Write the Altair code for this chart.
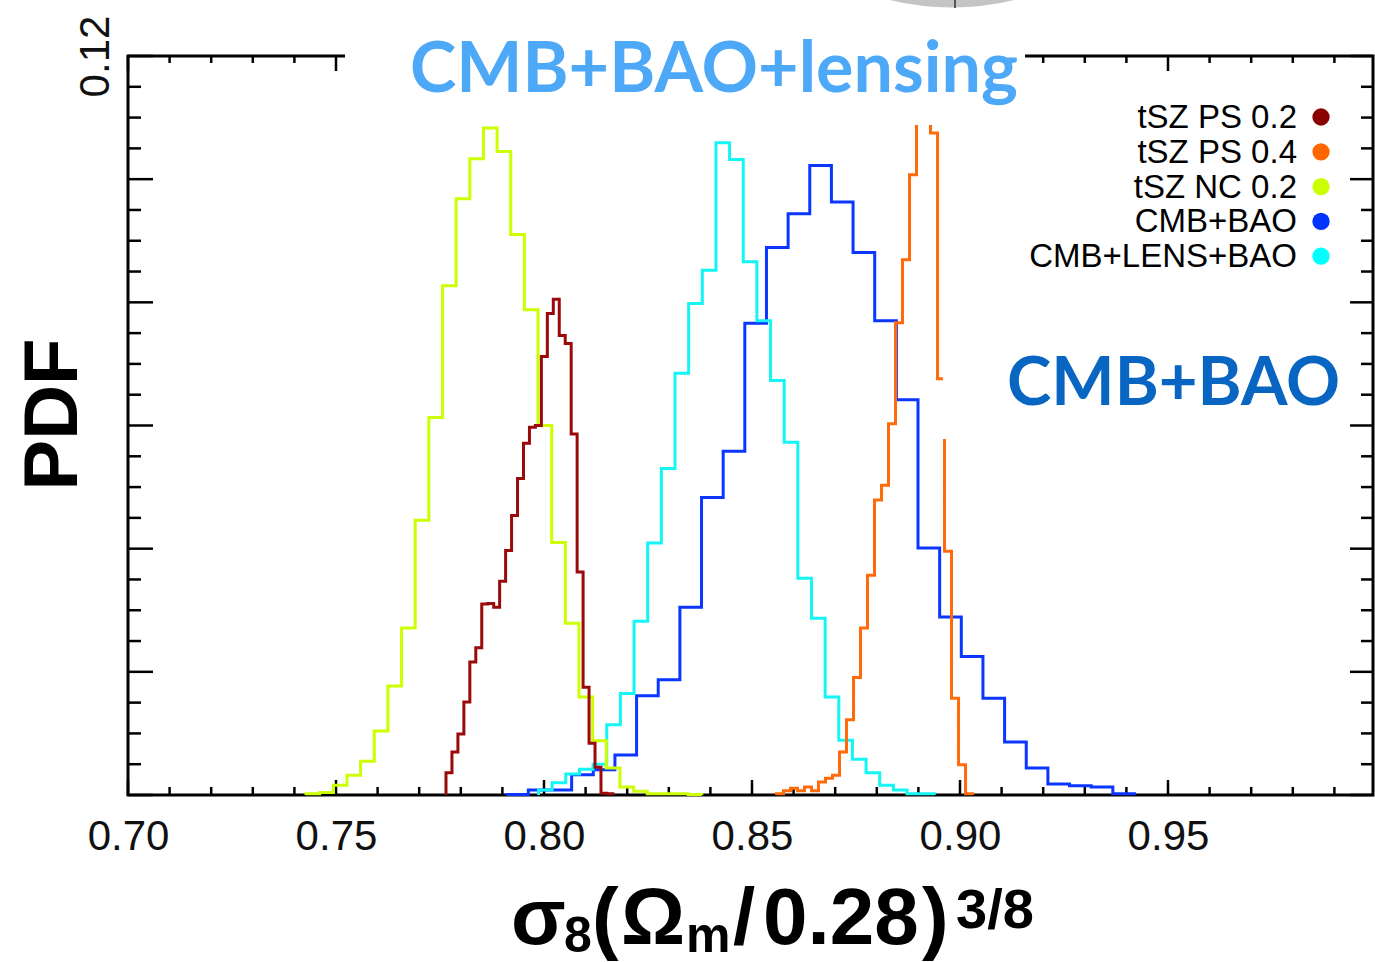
import altair as alt
import pandas as pd

# ---------------- data ----------------
X_DOMAIN = [0.70, 0.99928]
Y_DOMAIN = [0.0, 0.12]

series_names = ["tSZ PS 0.2", "tSZ PS 0.4", "tSZ NC 0.2", "CMB+BAO", "CMB+LENS+BAO"]
series_colors = ["#9a0a0a", "#ff6a0a", "#ccff00", "#0a36ff", "#14f5f5"]
legend_dot_colors = ["#8b0000", "#ff6600", "#ccff00", "#0033ff", "#00ffff"]

# histogram: first bin left edge, bin width, bin heights
ps02_start, ps02_width = 0.77644, 0.001433
ps02_heights = [0.0036, 0.0070, 0.0099, 0.0151, 0.0216, 0.0239, 0.0310, 0.0311, 0.0305,
                0.0347, 0.0397, 0.0454, 0.0514, 0.0571, 0.0597, 0.0600, 0.0712, 0.0782,
                0.0805, 0.0746, 0.0733, 0.0586, 0.0362, 0.0175, 0.0084, 0.0045, 0.0003,
                0.0002]

ps04_start, ps04_width = 0.85589, 0.001683
ps04_heights = [0.0002, 0.0007, 0.0011, 0.0007, 0.0013, 0.0007, 0.0021, 0.0027, 0.0032,
                0.0070, 0.0122, 0.0191, 0.0271, 0.0357, 0.0479, 0.0503, 0.0603, 0.0767,
                0.0869, 0.1007, 0.1160, 0.1130, 0.1075, 0.0676, 0.0396, 0.0157, 0.0049,
                0.0002]

nc02_start, nc02_width = 0.74279, 0.003281
nc02_heights = [0.0002, 0.0004, 0.0016, 0.0032, 0.0055, 0.0104, 0.0177, 0.0271, 0.0446,
                0.0613, 0.0827, 0.0968, 0.1033, 0.1083, 0.1045, 0.0910, 0.0788, 0.0600,
                0.0410, 0.0279, 0.0159, 0.0088, 0.0044, 0.0013, 0.0006, 0.0002, 0.0002,
                0.0002, 0.0001]

cmbbao_start, cmbbao_width = 0.79103, 0.005204
cmbbao_heights = [0.0001, 0.0008, 0.0008, 0.0033, 0.0041, 0.0065, 0.0161, 0.0187, 0.0305,
                  0.0483, 0.0558, 0.0766, 0.0889, 0.0944, 0.1022, 0.0963, 0.0881, 0.0770,
                  0.0642, 0.0401, 0.0289, 0.0225, 0.0157, 0.0086, 0.0044, 0.0018, 0.0015,
                  0.0013, 0.0002]

lens_start, lens_width = 0.79868, 0.003281
lens_heights = [0.0008, 0.0020, 0.0034, 0.0042, 0.0050, 0.0114, 0.0165, 0.0282, 0.0409,
                0.0530, 0.0685, 0.0798, 0.0852, 0.1059, 0.1032, 0.0866, 0.0770, 0.0673,
                0.0573, 0.0352, 0.0287, 0.0159, 0.0089, 0.0058, 0.0036, 0.0016, 0.0008,
                0.0002, 0.0002]

hist_specs = {
    "tSZ PS 0.2": (ps02_start, ps02_width, ps02_heights),
    "tSZ PS 0.4": (ps04_start, ps04_width, ps04_heights),
    "tSZ NC 0.2": (nc02_start, nc02_width, nc02_heights),
    "CMB+BAO": (cmbbao_start, cmbbao_width, cmbbao_heights),
    "CMB+LENS+BAO": (lens_start, lens_width, lens_heights),
}
draw_order = ["CMB+BAO", "CMB+LENS+BAO", "tSZ NC 0.2", "tSZ PS 0.2", "tSZ PS 0.4"]

x_label_values = [0.70, 0.75, 0.80, 0.85, 0.90, 0.95]
x_minor_values = [0.71, 0.72, 0.73, 0.74, 0.76, 0.77, 0.78, 0.79, 0.81, 0.82, 0.83, 0.84,
                  0.86, 0.87, 0.88, 0.89, 0.91, 0.92, 0.93, 0.94, 0.96, 0.97, 0.98, 0.99]
y_major_values = [0.0, 0.02, 0.04, 0.06, 0.08, 0.10, 0.12]
y_minor_values = [0.005, 0.01, 0.015, 0.025, 0.03, 0.035, 0.045, 0.05, 0.055, 0.065, 0.07,
                  0.075, 0.085, 0.09, 0.095, 0.105, 0.11, 0.115]
y_label_values = [0.12]

title_text = "CMB+BAO+lensing"
label_text = "CMB+BAO"
y_title = "PDF"
x_title_parts = ["σ", "8", "(", "Ω", "m", "/", "0.28", ")", "3/8"]

# ---------------- layout ----------------
W, H = 1245, 739
FONT = "Liberation Sans"

xscale = alt.Scale(domain=X_DOMAIN, nice=False, zero=False)
yscale = alt.Scale(domain=Y_DOMAIN, nice=False, zero=False)

xaxis = alt.Axis(values=x_label_values, format=".2f", labelFontSize=42, labelFont=FONT,
                 labelColor="#111", labelPadding=21, ticks=False, domain=False, grid=False,
                 title=None, labelFlush=False)
yaxis = alt.Axis(values=y_label_values, format=".2f", labelFontSize=42, labelFont=FONT,
                 labelColor="#111", labelAngle=270, labelAlign="center",
                 labelBaseline="middle", labelPadding=33, ticks=False, tickSize=0,
                 domain=False, grid=False, labelFlush=False,
                 title=y_title, titleFont=FONT, titleFontSize=76, titleFontWeight="bold",
                 titleColor="#000", titleAngle=270, titleAlign="center",
                 titleBaseline="middle", titleX=-75, titleY=358)


def step_frame(name):
    start, width, heights = hist_specs[name]
    xs = [start] + [start + k * width for k in range(len(heights))] + [start + len(heights) * width]
    ys = [0.0] + list(heights) + [0.0]
    return pd.DataFrame({"x": xs, "y": ys, "i": list(range(len(xs))), "series": name})


dummy = pd.DataFrame({"a": [0]})

layers = []

# frame
layers.append(alt.Chart(dummy).mark_rect(fillOpacity=0, stroke="#000", strokeWidth=3).encode(
    x=alt.value(0), x2=alt.value(W), y=alt.value(0), y2=alt.value(H)))

# ticks (inward)
xmaj = pd.DataFrame({"v": x_label_values})
xmin = pd.DataFrame({"v": x_minor_values})
ymaj = pd.DataFrame({"v": y_major_values})
ymin = pd.DataFrame({"v": y_minor_values})
tick_style = dict(color="#000", strokeWidth=2.5)
for df, blen, tlen in [(xmaj, 15, 15), (xmin, 8, 7)]:
    layers.append(alt.Chart(df).mark_rule(**tick_style).encode(
        x=alt.X("v:Q", scale=xscale, axis=xaxis), y=alt.value(H), y2=alt.value(H - blen)))
    layers.append(alt.Chart(df).mark_rule(**tick_style).encode(
        x=alt.X("v:Q", scale=xscale, axis=xaxis), y=alt.value(0), y2=alt.value(tlen)))
for df, llen, rlen in [(ymaj, 25, 23), (ymin, 13, 12)]:
    layers.append(alt.Chart(df).mark_rule(**tick_style).encode(
        y=alt.Y("v:Q", scale=yscale, axis=yaxis), x=alt.value(0), x2=alt.value(llen)))
    layers.append(alt.Chart(df).mark_rule(**tick_style).encode(
        y=alt.Y("v:Q", scale=yscale, axis=yaxis), x=alt.value(W), x2=alt.value(W - rlen)))

# histogram outlines
color_scale = alt.Scale(domain=series_names, range=series_colors)
for name in draw_order:
    layers.append(alt.Chart(step_frame(name)).mark_line(
        interpolate="step-after", strokeWidth=3, strokeJoin="miter").encode(
        x=alt.X("x:Q", scale=xscale, axis=xaxis),
        y=alt.Y("y:Q", scale=yscale, axis=yaxis),
        color=alt.Color("series:N", scale=color_scale, legend=None),
        order="i:Q"))

# white label backgrounds
layers.append(alt.Chart(dummy).mark_rect(color="white").encode(
    x=alt.value(217), x2=alt.value(897), y=alt.value(-56), y2=alt.value(69)))
layers.append(alt.Chart(dummy).mark_rect(color="white").encode(
    x=alt.value(815), x2=alt.value(1222), y=alt.value(318), y2=alt.value(383)))

# grey cropped shape at the very top of the picture
layers.append(alt.Chart(dummy).mark_point(
    shape="M -1 0 Q 0 0.24 1 0 Z", filled=True, size=15600, opacity=1,
    color="#c4c4c4").encode(x=alt.value(824), y=alt.value(-56)))
layers.append(alt.Chart(dummy).mark_rule(color="#555", strokeWidth=2).encode(
    x=alt.value(827), y=alt.value(-56), y2=alt.value(-48)))

# big labels
layers.append(alt.Chart(pd.DataFrame({"t": [title_text]})).mark_text(
    font="Lato", fontSize=70, fontWeight="bold", color="#4da8f7", align="left",
    baseline="alphabetic").encode(x=alt.value(282), y=alt.value(36), text="t:N"))
layers.append(alt.Chart(pd.DataFrame({"t": [label_text]})).mark_text(
    font="Lato", fontSize=67, fontWeight="bold", color="#0865c1", align="left",
    baseline="alphabetic").encode(x=alt.value(879), y=alt.value(349), text="t:N"))

# x-axis title built from pieces (subscripts / superscript)
part_x = [383, 436, 464, 493, 558, 605, 635, 794, 828]
part_y = [888, 896, 888, 888, 896, 888, 888, 888, 872]
part_size = [80, 50, 80, 80, 50, 80, 80, 80, 56]
for txt, px, py, fs in zip(x_title_parts, part_x, part_y, part_size):
    layers.append(alt.Chart(pd.DataFrame({"t": [txt]})).mark_text(
        font=FONT, fontSize=fs, fontWeight="bold", color="#000", align="left",
        baseline="alphabetic").encode(x=alt.value(px), y=alt.value(py), text="t:N"))

# legend (labels left of dots)
for k, (lab, col) in enumerate(zip(series_names, legend_dot_colors)):
    yy = 61 + 34.8 * k
    layers.append(alt.Chart(pd.DataFrame({"t": [lab]})).mark_text(
        font=FONT, fontSize=33, color="#000", align="right", baseline="middle").encode(
        x=alt.value(1169), y=alt.value(yy + 1), text="t:N"))
    layers.append(alt.Chart(pd.DataFrame({"t": [lab]})).mark_point(
        shape="circle", filled=True, size=300, opacity=1, color=col).encode(
        x=alt.value(1193), y=alt.value(yy)))

chart = alt.layer(*layers).properties(
    width=W, height=H,
    autosize=alt.AutoSizeParams(type="none"),
    padding={"left": 128, "top": 56, "right": 2, "bottom": 167},
).configure_view(strokeWidth=0).configure(background="white")

chart.save("out.html", embed_options={"renderer": "svg", "actions": False})
